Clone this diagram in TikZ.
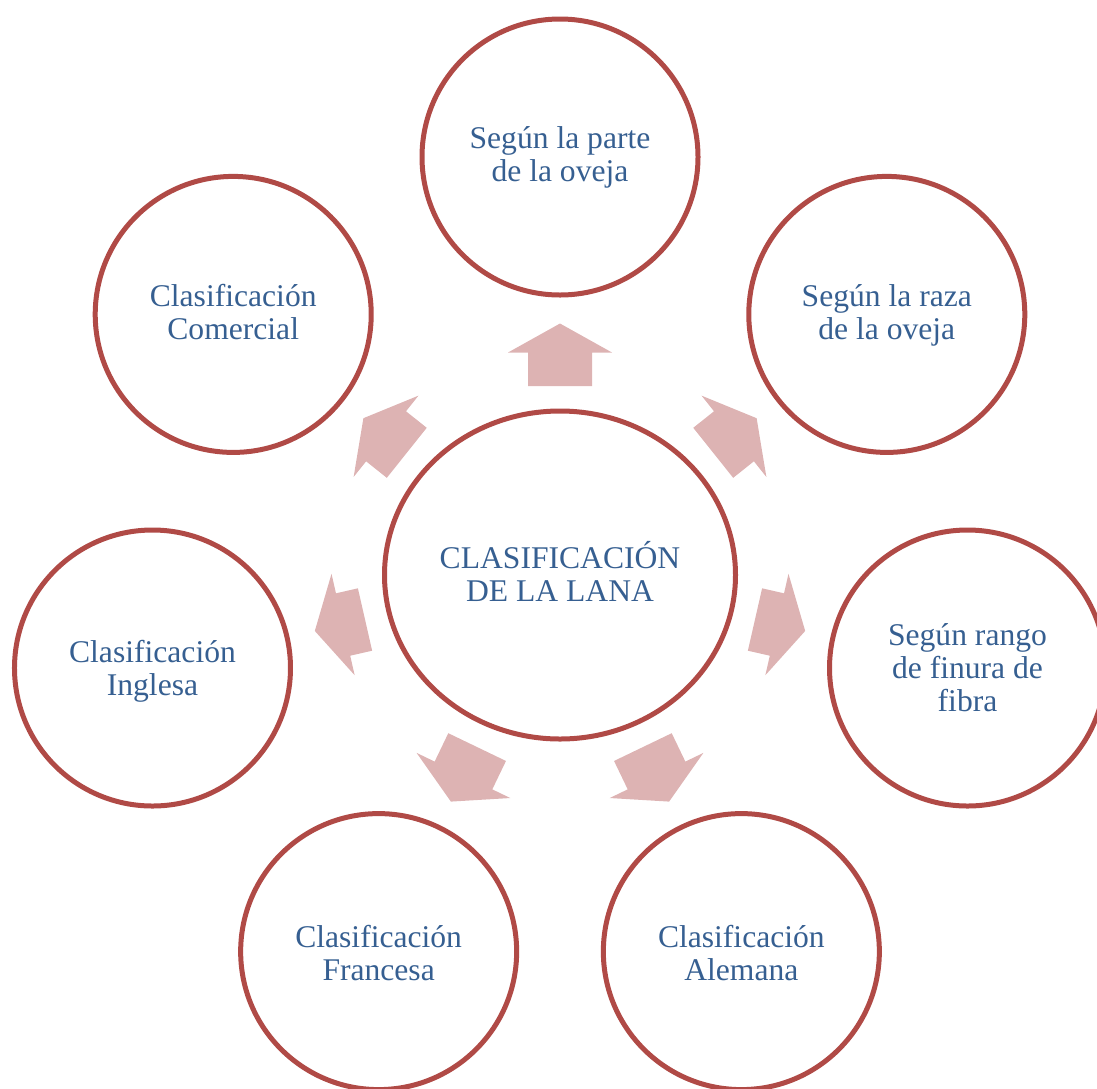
\documentclass[tikz,border=0pt]{standalone}
\usepackage{fontspec}
\setmainfont{Liberation Serif}
\usetikzlibrary{shapes.geometric,calc}

\definecolor{ringred}{HTML}{B04A46}
\definecolor{labelblue}{HTML}{365F91}
\definecolor{arrowpink}{HTML}{DDB3B3}

% stacked, centred lines whose baseline is that of the first line
\newcommand\stack[1]{\begin{tabular}[t]{@{}c@{}}#1\end{tabular}}

% block arrow pointing away from the hub: #1 = direction, #2 = tail distance
\newcommand\spoke[2]{%
  \begin{scope}[shift={(lana.center)}, rotate=#1]
    \fill[blockarrow] (#2,32) -- (222.5,32) -- (222.5,52) -- (251.5,0)
      -- (222.5,-52) -- (222.5,-32) -- (#2,-32) -- cycle;
  \end{scope}}

\tikzset{
  labeltext/.style={text=labelblue, font=\fontsize{31.6pt}{33pt}\selectfont,
    text height=0pt},
  ring/.style={circle, draw=ringred, line width=5pt, minimum size=276pt,
    inner sep=0pt, labeltext},
  hub/.style={ellipse, draw=ringred, line width=5pt, minimum width=351pt,
    minimum height=328pt, inner sep=0pt, labeltext},
  lift/.style={text depth=#1},
  blockarrow/.style={fill=arrowpink, draw=none},
}

\begin{document}
\begin{tikzpicture}[x=1pt, y=1pt]
  \useasboundingbox (0,0) rectangle (1097,-1088);
  \clip (0,0) rectangle (1097,-1088);

  % central topic
  \node[hub, lift=14pt] (lana) at (560,-575)
    {\stack{CLASIFICACIÓN\\DE LA LANA}};

  % surrounding categories, evenly spaced on a ring
  \node[ring, lift=18pt] (parte)     at ($(lana.center)+(90:418)$)
    {\stack{Según la parte\\de la oveja}};
  \node[ring, lift=15pt] (raza)      at ($(lana.center)+(38.571:418)$)
    {\stack{Según la raza\\de la oveja}};
  \node[ring, lift=46pt] (finura)    at ($(lana.center)+(-12.857:418)$)
    {\stack{Según rango\\de finura de\\fibra}};
  \node[ring, lift=9pt]  (alemana)   at ($(lana.center)+(-64.286:418)$)
    {\stack{Clasificación\\Alemana}};
  \node[ring, lift=9pt]  (francesa)  at ($(lana.center)+(-115.714:418)$)
    {\stack{Clasificación\\Francesa}};
  \node[ring, lift=12pt] (inglesa)   at ($(lana.center)+(-167.143:418)$)
    {\stack{Clasificación\\Inglesa}};
  \node[ring, lift=15pt] (comercial) at ($(lana.center)+(141.429:418)$)
    {\stack{Clasificación\\Comercial}};

  % arrows from the hub towards each category
  \spoke{90}{189}
  \spoke{38.571}{196}
  \spoke{-12.857}{200}
  \spoke{-64.286}{191}
  \spoke{-115.714}{191}
  \spoke{-167.143}{200}
  \spoke{141.429}{196}
\end{tikzpicture}
\end{document}
